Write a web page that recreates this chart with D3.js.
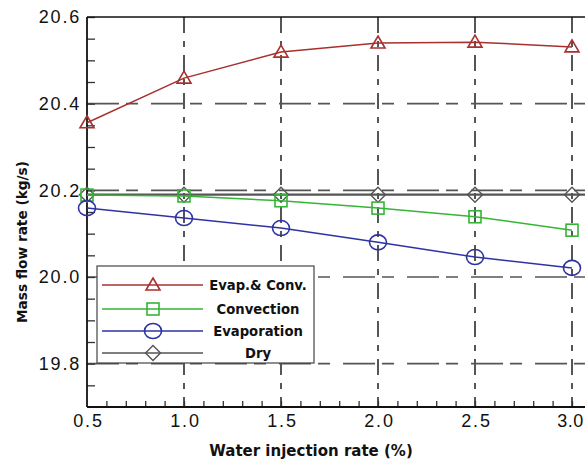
<!DOCTYPE html>
<html>
<head>
<meta charset="utf-8">
<script src="https://cdn.jsdelivr.net/npm/d3@7/dist/d3.min.js"></script>
<style>
  html, body { margin: 0; padding: 0; background: #fff; }
  svg { display: block; }
</style>
</head>
<body>
<svg id="chart" width="585" height="461"></svg>
<script>
// ---- Data ----
const xValues = [0.5, 1.0, 1.5, 2.0, 2.5, 3.0];
const evapConv = [20.356, 20.459, 20.519, 20.540, 20.542, 20.531];
const convection = [20.189, 20.187, 20.176, 20.159, 20.139, 20.108];
const evaporation = [20.159, 20.136, 20.113, 20.080, 20.046, 20.021];
const dry = [20.190, 20.190, 20.190, 20.190, 20.190, 20.190];
const seriesNames = ["Evap.& Conv.", "Convection", "Evaporation", "Dry"];
const xTickValues = [0.5, 1.0, 1.5, 2.0, 2.5, 3.0];
const yTickValues = [19.8, 20.0, 20.2, 20.4, 20.6];
const yGridValues = [19.8, 20.0, 20.2, 20.4];
const xTitle = "Water injection rate (%)";
const yTitle = "Mass flow rate (kg/s)";

(function () {
// ---- Layout ----
const svg = d3.select("#chart");
const pLeft = 87, pTop = 17, pBottom = 407;
const x = d3.scaleLinear().domain([0.5, 3.0]).range([pLeft, pLeft + 5 * 97]);
const y = d3.scaleLinear().domain([19.7, 20.6]).range([pBottom, pTop]);
const rightEdge = 600;
const tickFont = "Liberation Sans, Arial, sans-serif";
const boldFont = "DejaVu Sans, Verdana, sans-serif";

const series = [
  { name: seriesNames[0], values: evapConv, color: "#a8302f", marker: "triangle" },
  { name: seriesNames[1], values: convection, color: "#35b535", marker: "square" },
  { name: seriesNames[2], values: evaporation, color: "#2d33a3", marker: "circle" },
  { name: seriesNames[3], values: dry, color: "#555555", marker: "diamond" }
];

// ---- Grid ----
const grid = svg.append("g");
grid.selectAll("line.hg").data(yGridValues).enter().append("line")
  .attr("x1", pLeft).attr("x2", rightEdge)
  .attr("y1", d => y(d)).attr("y2", d => y(d))
  .attr("stroke", "#555").attr("stroke-width", 1.7)
  .attr("stroke-dasharray", "32,7,12,13");
grid.selectAll("line.vg").data(xTickValues.slice(1)).enter().append("line")
  .attr("x1", d => x(d)).attr("x2", d => x(d))
  .attr("y1", pTop).attr("y2", pBottom)
  .attr("stroke", "#555").attr("stroke-width", 2)
  .attr("stroke-dasharray", "16,8,6,8");

// ---- Axes ----
const yAxis = d3.axisLeft(y).tickValues(d3.range(19.75, 20.6, 0.05)).tickSize(-8).tickFormat("");
const ga = svg.append("g").attr("transform", `translate(${pLeft},0)`).call(yAxis);
ga.select(".domain").remove();
ga.selectAll(".tick line").attr("stroke", "#333").attr("stroke-width", 1.3);

const yLab = d3.axisLeft(y).tickValues(yTickValues).tickSize(0).tickPadding(6).tickFormat(d3.format(".1f"));
const gl = svg.append("g").attr("transform", `translate(${pLeft},0)`).call(yLab);
gl.select(".domain").remove();
gl.selectAll("text").attr("font-family", tickFont).attr("letter-spacing", "1.8px")
  .attr("font-size", 18).attr("fill", "#111");

const xMinor = d3.axisBottom(x).tickValues(d3.range(0.6, 3.01, 0.1)).tickSize(-6).tickFormat("");
const gxm = svg.append("g").attr("transform", `translate(0,${pBottom})`).call(xMinor);
gxm.select(".domain").remove();
gxm.selectAll(".tick line").attr("stroke", "#333").attr("stroke-width", 1.3);

const xAxis = d3.axisBottom(x).tickValues(xTickValues).tickSize(0).tickPadding(7).tickFormat(d3.format(".1f"));
const gx = svg.append("g").attr("transform", `translate(0,${pBottom})`).call(xAxis);
gx.select(".domain").remove();
gx.selectAll("text").attr("font-family", tickFont).attr("letter-spacing", "1.8px")
  .attr("font-size", 18).attr("fill", "#111").attr("dx", "1px");
// keep the last label inside the page
gx.selectAll(".tick").filter(d => d === xTickValues[xTickValues.length - 1])
  .select("text").attr("letter-spacing", "0.5px").attr("dx", "-2px");

// frame lines
svg.append("line").attr("x1", pLeft).attr("x2", rightEdge).attr("y1", pTop).attr("y2", pTop)
  .attr("stroke", "#111").attr("stroke-width", 1.6);
svg.append("line").attr("x1", pLeft).attr("x2", pLeft).attr("y1", pTop).attr("y2", pBottom)
  .attr("stroke", "#111").attr("stroke-width", 1.8);
svg.append("line").attr("x1", pLeft).attr("x2", rightEdge).attr("y1", pBottom).attr("y2", pBottom)
  .attr("stroke", "#111").attr("stroke-width", 1.8);

// ---- Markers ----
function drawMarker(g, type, cx, cy, color) {
  if (type === "triangle") {
    g.append("path").attr("d", `M${cx},${cy - 7} L${cx + 7},${cy + 5} L${cx - 7},${cy + 5} Z`)
      .attr("fill", "none").attr("stroke", color).attr("stroke-width", 1.6);
  } else if (type === "square") {
    g.append("rect").attr("x", cx - 6).attr("y", cy - 6).attr("width", 12).attr("height", 12)
      .attr("fill", "none").attr("stroke", color).attr("stroke-width", 1.6);
  } else if (type === "circle") {
    g.append("ellipse").attr("cx", cx).attr("cy", cy).attr("rx", 8.5).attr("ry", 7.5)
      .attr("fill", "none").attr("stroke", color).attr("stroke-width", 1.6);
  } else {
    g.append("path").attr("d", `M${cx},${cy - 7.5} L${cx + 7.5},${cy} L${cx},${cy + 7.5} L${cx - 7.5},${cy} Z`)
      .attr("fill", "none").attr("stroke", color).attr("stroke-width", 1.4);
  }
}

// ---- Series ----
const line = d3.line().x((d, i) => x(xValues[i])).y(d => y(d));
const drawOrder = [3, 1, 2, 0];
drawOrder.forEach(k => {
  const s = series[k];
  const g = svg.append("g");
  if (k === 3) {
    g.append("line").attr("x1", x(xValues[0])).attr("x2", rightEdge)
      .attr("y1", y(s.values[0])).attr("y2", y(s.values[0]))
      .attr("stroke", s.color).attr("stroke-width", 2.2);
  } else {
    g.append("path").datum(s.values).attr("d", line)
      .attr("fill", "none").attr("stroke", s.color).attr("stroke-width", 1.5);
  }
  s.values.forEach((v, i) => drawMarker(g, s.marker, x(xValues[i]), y(v), s.color));
});

// ---- Legend ----
const lg = svg.append("g");
lg.append("rect").attr("x", 97).attr("y", 266).attr("width", 217).attr("height", 97)
  .attr("fill", "#fff").attr("stroke", "#444").attr("stroke-width", 1.2);
const rowY = [285, 309, 331, 353];
series.forEach((s, i) => {
  lg.append("line").attr("x1", 102).attr("x2", 203).attr("y1", rowY[i]).attr("y2", rowY[i])
    .attr("stroke", s.color).attr("stroke-width", 1.6);
  drawMarker(lg, s.marker, 153, rowY[i], s.color);
  lg.append("text").attr("x", 258).attr("y", rowY[i]).attr("dy", "0.35em")
    .attr("text-anchor", "middle")
    .attr("font-family", boldFont)
    .attr("font-weight", "bold").attr("font-size", 13.2).attr("fill", "#111")
    .text(s.name);
});

// ---- Titles ----
svg.append("text").attr("x", 311).attr("y", 451).attr("dy", "0.35em").attr("text-anchor", "middle")
  .attr("font-family", boldFont)
  .attr("font-weight", "bold").attr("font-size", 15).attr("fill", "#111").text(xTitle);
svg.append("text").attr("transform", "translate(22,242) rotate(-90)").attr("dy", "0.35em")
  .attr("text-anchor", "middle")
  .attr("font-family", boldFont)
  .attr("font-weight", "bold").attr("font-size", 13.7).attr("fill", "#111").text(yTitle);
})();
</script>
</body>
</html>
